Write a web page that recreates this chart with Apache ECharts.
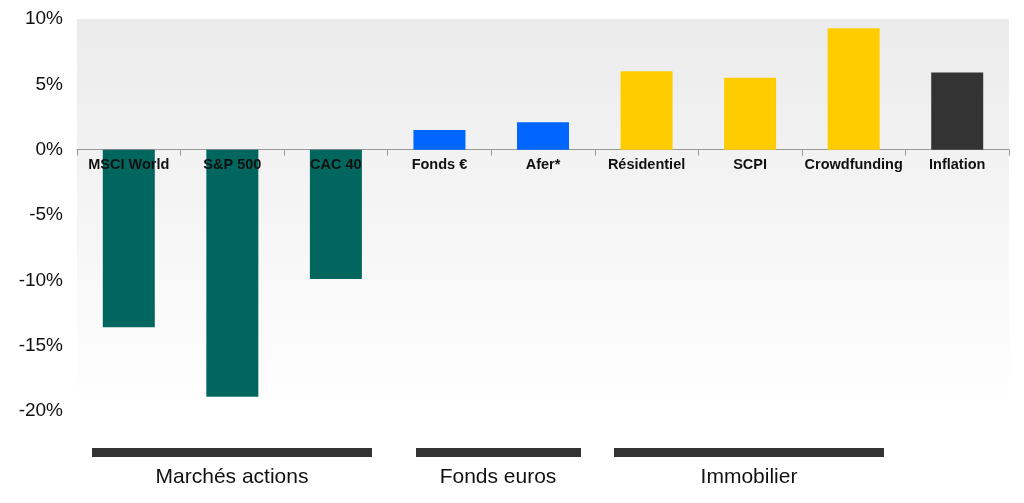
<!DOCTYPE html>
<html><head><meta charset="utf-8">
<script src="https://cdn.jsdelivr.net/npm/echarts@6/dist/echarts.min.js"></script>
<style>html,body{margin:0;padding:0;background:#fff}#c{width:1024px;height:503px}</style>
</head><body><div id="c"></div>
<script>
const categories = ['MSCI World','S&P 500','CAC 40','Fonds €','Afer*','Résidentiel','SCPI','Crowdfunding','Inflation'];
const values = [-13.6,-18.9,-9.9,1.5,2.1,6.0,5.5,9.3,5.9];
const colors = ['#00665e','#00665e','#00665e','#0066ff','#0066ff','#ffcc00','#ffcc00','#ffcc00','#333333'];
const groups = ['Marchés actions','Fonds euros','Immobilier'];
const chart = echarts.init(document.getElementById('c'));
const font = 'Helvetica, Arial, "Liberation Sans", sans-serif';
chart.setOption({
  animation:false,
  grid:{left:77,right:15,top:19,bottom:92,show:true,borderWidth:0,
    backgroundColor:{type:'linear',x:0,y:0,x2:0,y2:1,colorStops:[{offset:0,color:'#ebebeb'},{offset:1,color:'#ffffff'}]}},
  xAxis:{type:'category',data:categories,position:'bottom',
    axisLine:{onZero:true,lineStyle:{color:'#999'}},
    axisTick:{show:true,inside:false,length:6,lineStyle:{color:'#999'}},
    axisLabel:{show:false}},
  yAxis:{type:'value',min:-20,max:10,interval:5,splitLine:{show:false},
    axisLabel:{formatter:'{value}%',fontSize:19,color:'#111',fontFamily:font,margin:14}},
  series:[{type:'bar',barWidth:52,
    data:values.map((v,i)=>({value:v,itemStyle:{color:colors[i]}})),
    label:{show:true,position:'insideTop',formatter:p=>p.name,fontSize:14.5,fontWeight:'bold',color:'#111',fontFamily:font}},
  ],
  graphic:[
    {type:'rect',shape:{x:92,y:448,width:280,height:9},style:{fill:'#333'}},
    {type:'rect',shape:{x:416,y:448,width:165,height:9},style:{fill:'#333'}},
    {type:'rect',shape:{x:614,y:448,width:270,height:9},style:{fill:'#333'}},
    {type:'text',x:232,y:477,style:{text:groups[0],fontSize:21,fill:'#111',fontFamily:font,textAlign:'center',textVerticalAlign:'middle'}},
    {type:'text',x:498,y:477,style:{text:groups[1],fontSize:21,fill:'#111',fontFamily:font,textAlign:'center',textVerticalAlign:'middle'}},
    {type:'text',x:749,y:477,style:{text:groups[2],fontSize:21,fill:'#111',fontFamily:font,textAlign:'center',textVerticalAlign:'middle'}}
  ]
});
// Labels: place just below zero line regardless of sign
chart.setOption({series:[{label:{position:'insideTop'},
  data:values.map((v,i)=>({value:v,itemStyle:{color:colors[i]},
    label: v>=0 ? {position:'bottom',distance:8} : {position:'insideTop',distance:8}}))}]});
</script></body></html>
